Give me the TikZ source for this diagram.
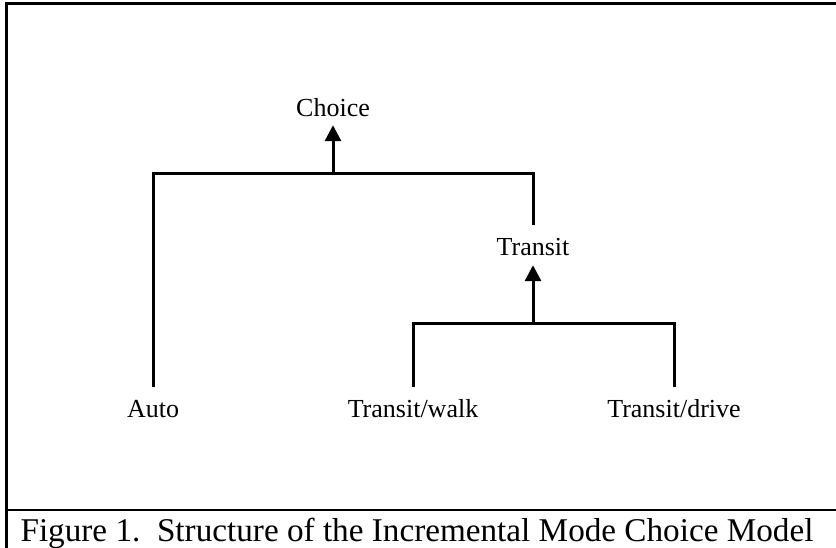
\documentclass[tikz,border=0pt]{standalone}
\usepackage{fontspec}
\setmainfont{Liberation Serif}
\usetikzlibrary{arrows.meta}
\tikzset{%
  tipA/.tip={Triangle[width=16pt,length=16pt]},
  branch/.style={line width=3pt},
  alt/.style={font=\fontsize{26}{30}\selectfont, inner sep=0pt,
    text height=18pt, text depth=5pt}
}

\begin{document}
\begin{tikzpicture}[x=1pt,y=-1pt]
\useasboundingbox (0,0) rectangle (836,548);
% frame and caption box
\draw[line width=3pt] (6,548) -- (6,4) -- (836,4);
\draw[line width=2pt] (6,510) -- (836,510);
\node[font=\fontsize{33.2}{38}\selectfont, inner sep=0pt, anchor=base] (caption) at (417,541)
  {Figure 1.\ \ Structure of the Incremental Mode Choice Model};
% alternatives
\node[alt, anchor=base] (choice) at (333,117) {Choice};
\node[alt, anchor=base] (transit) at (533,256) {Transit};
\node[alt, anchor=base] (auto) at (153,417) {Auto};
\node[alt, anchor=base] (walk) at (413,417) {Transit/walk};
\node[alt, anchor=base] (drive) at (674,417) {Transit/drive};
\coordinate (tophub) at (333,174);
\coordinate (lowhub) at (533,324);
% nesting
\draw[branch, shorten <=12pt, shorten >=13pt] (auto.north) |- (tophub) -| (transit.north);
\draw[branch, -tipA, shorten >=3pt] (tophub) -- (choice);
\draw[branch, shorten <=12pt, shorten >=12pt] (walk.north) |- (lowhub) -| (drive.north);
\draw[branch, -tipA, shorten >=4pt] (lowhub) -- (transit);
\end{tikzpicture}
\end{document}
